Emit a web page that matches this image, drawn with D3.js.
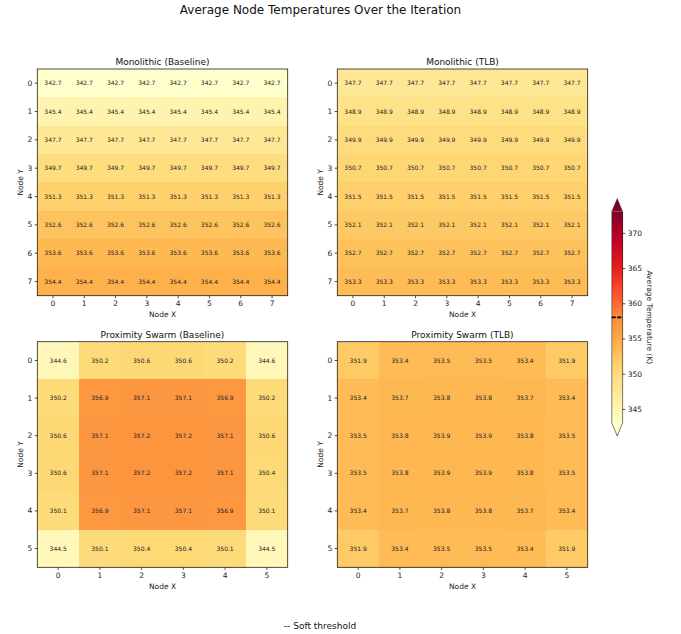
<!DOCTYPE html>
<html>
  <head>
    <meta charset="utf-8">
    <title>Average Node Temperatures</title>
    <script src="https://cdn.jsdelivr.net/npm/d3@7"></script>
    <style type="text/css">

body {
  margin: 0;
  background: #fff;
  font-family: "DejaVu Sans", sans-serif;
}

.axis path, .axis line {
  stroke: #222;
  stroke-width: 0.8;
}

.axis text {
  fill: #222;
  font-size: 7.5px;
  font-family: "DejaVu Sans", sans-serif;
}

rect.cell, rect.step {
  shape-rendering: crispEdges;
}

    </style>
  </head>
  <body>
    <script type="text/javascript">

var monoBase = [
  [342.7, 342.7, 342.7, 342.7, 342.7, 342.7, 342.7, 342.7],
  [345.4, 345.4, 345.4, 345.4, 345.4, 345.4, 345.4, 345.4],
  [347.7, 347.7, 347.7, 347.7, 347.7, 347.7, 347.7, 347.7],
  [349.7, 349.7, 349.7, 349.7, 349.7, 349.7, 349.7, 349.7],
  [351.3, 351.3, 351.3, 351.3, 351.3, 351.3, 351.3, 351.3],
  [352.6, 352.6, 352.6, 352.6, 352.6, 352.6, 352.6, 352.6],
  [353.6, 353.6, 353.6, 353.6, 353.6, 353.6, 353.6, 353.6],
  [354.4, 354.4, 354.4, 354.4, 354.4, 354.4, 354.4, 354.4]
];

var monoTlb = [
  [347.7, 347.7, 347.7, 347.7, 347.7, 347.7, 347.7, 347.7],
  [348.9, 348.9, 348.9, 348.9, 348.9, 348.9, 348.9, 348.9],
  [349.9, 349.9, 349.9, 349.9, 349.9, 349.9, 349.9, 349.9],
  [350.7, 350.7, 350.7, 350.7, 350.7, 350.7, 350.7, 350.7],
  [351.5, 351.5, 351.5, 351.5, 351.5, 351.5, 351.5, 351.5],
  [352.1, 352.1, 352.1, 352.1, 352.1, 352.1, 352.1, 352.1],
  [352.7, 352.7, 352.7, 352.7, 352.7, 352.7, 352.7, 352.7],
  [353.3, 353.3, 353.3, 353.3, 353.3, 353.3, 353.3, 353.3]
];

var swarmBase = [
  [344.6, 350.2, 350.6, 350.6, 350.2, 344.6],
  [350.2, 356.9, 357.1, 357.1, 356.9, 350.2],
  [350.6, 357.1, 357.2, 357.2, 357.1, 350.6],
  [350.6, 357.1, 357.2, 357.2, 357.1, 350.4],
  [350.1, 356.9, 357.1, 357.1, 356.9, 350.1],
  [344.5, 350.1, 350.4, 350.4, 350.1, 344.5]
];

var swarmTlb = [
  [351.9, 353.4, 353.5, 353.5, 353.4, 351.9],
  [353.4, 353.7, 353.8, 353.8, 353.7, 353.4],
  [353.5, 353.8, 353.9, 353.9, 353.8, 353.5],
  [353.5, 353.8, 353.9, 353.9, 353.8, 353.5],
  [353.4, 353.7, 353.8, 353.8, 353.7, 353.4],
  [351.9, 353.4, 353.5, 353.5, 353.4, 351.9]
];

var panelTitles = ["Monolithic (Baseline)", "Monolithic (TLB)", "Proximity Swarm (Baseline)", "Proximity Swarm (TLB)"];
var colorTicks = [345, 350, 355, 360, 365, 370];
var vmin = 343, vmax = 373, threshold = 358;

var w = 681, h = 634;

var svg = d3.select("body")
  .append("svg")
    .attr("width", w)
    .attr("height", h);

// matplotlib YlOrRd = linear through the 9 colorbrewer stops
var stops = d3.schemeYlOrRd[9];
var color = d3.scaleLinear()
    .domain(stops.map(function(d, i) { return vmin + (vmax - vmin) * i / 8; }))
    .range(stops)
    .interpolate(d3.interpolateRgb)
    .clamp(true);

svg.append("text")
    .attr("x", 320.5)
    .attr("y", 14)
    .attr("text-anchor", "middle")
    .style("font-size", "12px")
    .style("fill", "#111")
    .text("Average Node Temperatures Over the Iteration");

var panels = [
  {data: monoBase, x: 37.3, y: 69, w: 250.4, h: 226.7},
  {data: monoTlb, x: 337.3, y: 69, w: 250.4, h: 226.7},
  {data: swarmBase, x: 37.3, y: 341.7, w: 250.4, h: 225.6},
  {data: swarmTlb, x: 337.3, y: 341.7, w: 250.4, h: 225.6}
];

panels.forEach(function(p, k) {
  var n = p.data.length,
      idx = d3.range(n);

  var x = d3.scaleBand().domain(idx).range([0, p.w]),
      y = d3.scaleBand().domain(idx).range([0, p.h]);

  var g = svg.append("g")
      .attr("transform", "translate(" + p.x + "," + p.y + ")");

  var cells = [];
  p.data.forEach(function(row, r) {
    row.forEach(function(v, c) { cells.push({r: r, c: c, v: v}); });
  });

  g.selectAll("rect.cell")
      .data(cells)
    .enter().append("rect")
      .attr("class", "cell")
      .attr("x", function(d) { return x(d.c); })
      .attr("y", function(d) { return y(d.r); })
      .attr("width", x.bandwidth() + 0.5)
      .attr("height", y.bandwidth() + 0.5)
      .attr("fill", function(d) { return color(d.v); });

  g.selectAll("text.val")
      .data(cells)
    .enter().append("text")
      .attr("class", "val")
      .attr("x", function(d) { return x(d.c) + x.bandwidth() / 2; })
      .attr("y", function(d) { return y(d.r) + y.bandwidth() / 2; })
      .attr("dy", ".35em")
      .attr("text-anchor", "middle")
      .style("font-size", "6px")
      .style("fill", "#222")
      .text(function(d) { return d.v.toFixed(1); });

  g.append("rect")
      .attr("width", p.w)
      .attr("height", p.h)
      .attr("fill", "none")
      .attr("stroke", "#222")
      .attr("stroke-width", 0.8);

  g.append("g")
      .attr("class", "axis")
      .attr("transform", "translate(0," + p.h + ")")
      .call(d3.axisBottom(x).tickSize(2.6).tickPadding(2.5).tickSizeOuter(0))
    .select(".domain").remove();

  g.append("g")
      .attr("class", "axis")
      .call(d3.axisLeft(y).tickSize(2.6).tickPadding(2.5).tickSizeOuter(0))
    .select(".domain").remove();

  g.append("text")
      .attr("x", p.w / 2)
      .attr("y", -4)
      .attr("text-anchor", "middle")
      .style("font-size", "9px")
      .style("fill", "#111")
      .text(panelTitles[k]);

  g.append("text")
      .attr("x", p.w / 2)
      .attr("y", p.h + 21.5)
      .attr("text-anchor", "middle")
      .style("font-size", "7.5px")
      .style("fill", "#222")
      .text("Node X");

  g.append("text")
      .attr("transform", "translate(" + -14.5 + "," + p.h / 2 + ")rotate(-90)")
      .attr("text-anchor", "middle")
      .style("font-size", "7.5px")
      .style("fill", "#222")
      .text("Node Y");
});

// colorbar with extend="both"
var cb = {x: 611.8, w: 10.8, top: 211.7, bottom: 423, ext: 13};

var cy = d3.scaleLinear()
    .domain([vmin, vmax])
    .range([cb.bottom, cb.top]);

var cbg = svg.append("g")
    .attr("transform", "translate(" + cb.x + ",0)");

var steps = d3.range(0, 200);
cbg.selectAll("rect.step")
    .data(steps)
  .enter().append("rect")
    .attr("class", "step")
    .attr("x", 0)
    .attr("width", cb.w)
    .attr("y", function(i) { return cy(vmin + (vmax - vmin) * (i + 1) / 200); })
    .attr("height", (cb.bottom - cb.top) / 200 + 0.6)
    .attr("fill", function(i) { return color(vmin + (vmax - vmin) * (i + 0.5) / 200); });

cbg.append("path")
    .attr("d", "M0," + cb.top + "L" + cb.w / 2 + "," + (cb.top - cb.ext) + "L" + cb.w + "," + cb.top + "Z")
    .attr("fill", stops[8]);

cbg.append("path")
    .attr("d", "M0," + cb.bottom + "L" + cb.w / 2 + "," + (cb.bottom + cb.ext) + "L" + cb.w + "," + cb.bottom + "Z")
    .attr("fill", stops[0]);

cbg.append("path")
    .attr("d", "M0," + cb.top + "L" + cb.w / 2 + "," + (cb.top - cb.ext) + "L" + cb.w + "," + cb.top
      + "L" + cb.w + "," + cb.bottom + "L" + cb.w / 2 + "," + (cb.bottom + cb.ext) + "L0," + cb.bottom + "Z")
    .attr("fill", "none")
    .attr("stroke", "#222")
    .attr("stroke-width", 0.6);

cbg.append("line")
    .attr("x1", 0)
    .attr("x2", cb.w)
    .attr("y1", cy(threshold))
    .attr("y2", cy(threshold))
    .attr("stroke", "#000")
    .attr("stroke-width", 1.6)
    .attr("stroke-dasharray", "4,1.5");

cbg.append("g")
    .attr("class", "axis")
    .attr("transform", "translate(" + cb.w + ",0)")
    .call(d3.axisRight(cy).tickValues(colorTicks).tickSize(2.6).tickPadding(2.5))
  .select(".domain").remove();

svg.append("text")
    .attr("transform", "translate(" + 647 + "," + (cb.top + cb.bottom) / 2 + ")rotate(90)")
    .attr("text-anchor", "middle")
    .style("font-size", "7.5px")
    .style("fill", "#222")
    .text("Average Temperature (K)");

svg.append("text")
    .attr("x", 320)
    .attr("y", 628.5)
    .attr("text-anchor", "middle")
    .style("font-size", "9px")
    .style("fill", "#111")
    .text("-- Soft threshold");

    </script>
  </body>
</html>
